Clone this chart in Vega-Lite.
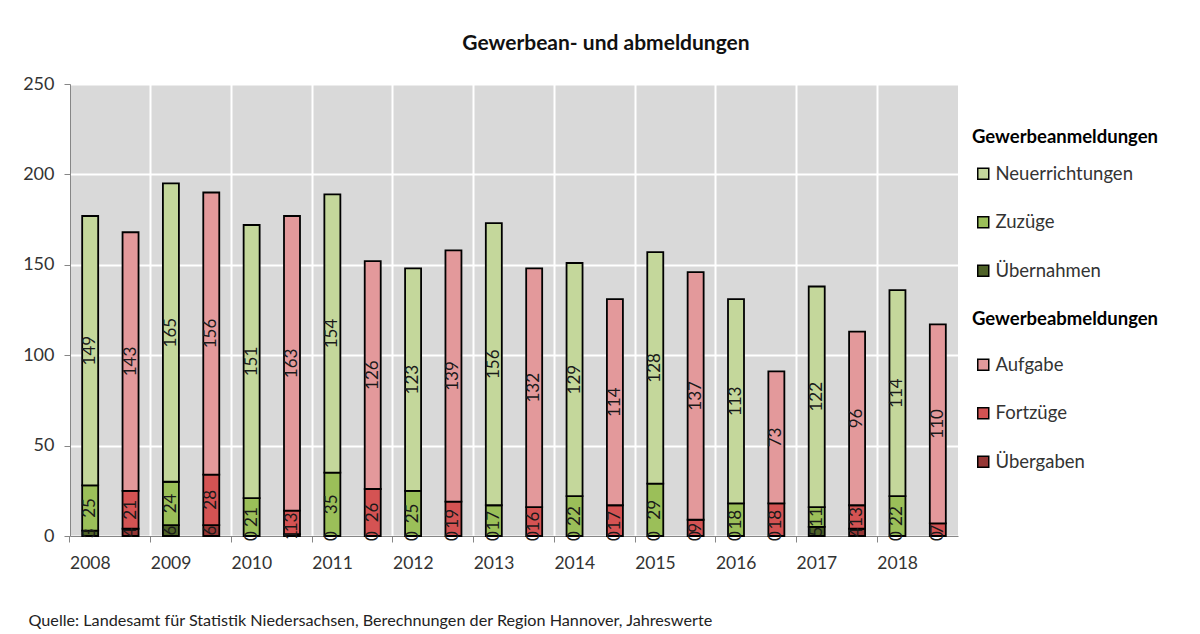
{
  "$schema": "https://vega.github.io/schema/vega-lite/v6.json",
  "width": 888,
  "height": 452,
  "autosize": {"type": "none"},
  "padding": {"left": 70, "top": 84, "right": 242, "bottom": 98},
  "background": "white",
  "title": {"text": "Gewerbean- und abmeldungen", "fontSize": 21, "font": "Lato", "fontWeight": "bold", "color": "#111111", "anchor": "middle", "dx": 92, "offset": 21},
  "data": {"values": [
    {"year": "2008", "g": "An", "k": "Übernahmen", "v": 3},
    {"year": "2008", "g": "An", "k": "Zuzüge", "v": 25},
    {"year": "2008", "g": "An", "k": "Neuerrichtungen", "v": 149},
    {"year": "2008", "g": "Ab", "k": "Übergaben", "v": 4},
    {"year": "2008", "g": "Ab", "k": "Fortzüge", "v": 21},
    {"year": "2008", "g": "Ab", "k": "Aufgabe", "v": 143},
    {"year": "2009", "g": "An", "k": "Übernahmen", "v": 6},
    {"year": "2009", "g": "An", "k": "Zuzüge", "v": 24},
    {"year": "2009", "g": "An", "k": "Neuerrichtungen", "v": 165},
    {"year": "2009", "g": "Ab", "k": "Übergaben", "v": 6},
    {"year": "2009", "g": "Ab", "k": "Fortzüge", "v": 28},
    {"year": "2009", "g": "Ab", "k": "Aufgabe", "v": 156},
    {"year": "2010", "g": "An", "k": "Übernahmen", "v": 0},
    {"year": "2010", "g": "An", "k": "Zuzüge", "v": 21},
    {"year": "2010", "g": "An", "k": "Neuerrichtungen", "v": 151},
    {"year": "2010", "g": "Ab", "k": "Übergaben", "v": 1},
    {"year": "2010", "g": "Ab", "k": "Fortzüge", "v": 13},
    {"year": "2010", "g": "Ab", "k": "Aufgabe", "v": 163},
    {"year": "2011", "g": "An", "k": "Übernahmen", "v": 0},
    {"year": "2011", "g": "An", "k": "Zuzüge", "v": 35},
    {"year": "2011", "g": "An", "k": "Neuerrichtungen", "v": 154},
    {"year": "2011", "g": "Ab", "k": "Übergaben", "v": 0},
    {"year": "2011", "g": "Ab", "k": "Fortzüge", "v": 26},
    {"year": "2011", "g": "Ab", "k": "Aufgabe", "v": 126},
    {"year": "2012", "g": "An", "k": "Übernahmen", "v": 0},
    {"year": "2012", "g": "An", "k": "Zuzüge", "v": 25},
    {"year": "2012", "g": "An", "k": "Neuerrichtungen", "v": 123},
    {"year": "2012", "g": "Ab", "k": "Übergaben", "v": 0},
    {"year": "2012", "g": "Ab", "k": "Fortzüge", "v": 19},
    {"year": "2012", "g": "Ab", "k": "Aufgabe", "v": 139},
    {"year": "2013", "g": "An", "k": "Übernahmen", "v": 0},
    {"year": "2013", "g": "An", "k": "Zuzüge", "v": 17},
    {"year": "2013", "g": "An", "k": "Neuerrichtungen", "v": 156},
    {"year": "2013", "g": "Ab", "k": "Übergaben", "v": 0},
    {"year": "2013", "g": "Ab", "k": "Fortzüge", "v": 16},
    {"year": "2013", "g": "Ab", "k": "Aufgabe", "v": 132},
    {"year": "2014", "g": "An", "k": "Übernahmen", "v": 0},
    {"year": "2014", "g": "An", "k": "Zuzüge", "v": 22},
    {"year": "2014", "g": "An", "k": "Neuerrichtungen", "v": 129},
    {"year": "2014", "g": "Ab", "k": "Übergaben", "v": 0},
    {"year": "2014", "g": "Ab", "k": "Fortzüge", "v": 17},
    {"year": "2014", "g": "Ab", "k": "Aufgabe", "v": 114},
    {"year": "2015", "g": "An", "k": "Übernahmen", "v": 0},
    {"year": "2015", "g": "An", "k": "Zuzüge", "v": 29},
    {"year": "2015", "g": "An", "k": "Neuerrichtungen", "v": 128},
    {"year": "2015", "g": "Ab", "k": "Übergaben", "v": 0},
    {"year": "2015", "g": "Ab", "k": "Fortzüge", "v": 9},
    {"year": "2015", "g": "Ab", "k": "Aufgabe", "v": 137},
    {"year": "2016", "g": "An", "k": "Übernahmen", "v": 0},
    {"year": "2016", "g": "An", "k": "Zuzüge", "v": 18},
    {"year": "2016", "g": "An", "k": "Neuerrichtungen", "v": 113},
    {"year": "2016", "g": "Ab", "k": "Übergaben", "v": 0},
    {"year": "2016", "g": "Ab", "k": "Fortzüge", "v": 18},
    {"year": "2016", "g": "Ab", "k": "Aufgabe", "v": 73},
    {"year": "2017", "g": "An", "k": "Übernahmen", "v": 5},
    {"year": "2017", "g": "An", "k": "Zuzüge", "v": 11},
    {"year": "2017", "g": "An", "k": "Neuerrichtungen", "v": 122},
    {"year": "2017", "g": "Ab", "k": "Übergaben", "v": 4},
    {"year": "2017", "g": "Ab", "k": "Fortzüge", "v": 13},
    {"year": "2017", "g": "Ab", "k": "Aufgabe", "v": 96},
    {"year": "2018", "g": "An", "k": "Übernahmen", "v": 0},
    {"year": "2018", "g": "An", "k": "Zuzüge", "v": 22},
    {"year": "2018", "g": "An", "k": "Neuerrichtungen", "v": 114},
    {"year": "2018", "g": "Ab", "k": "Übergaben", "v": 0},
    {"year": "2018", "g": "Ab", "k": "Fortzüge", "v": 7},
    {"year": "2018", "g": "Ab", "k": "Aufgabe", "v": 110}
  ]},
  "transform": [
    {"stack": "v", "groupby": ["year", "g"], "as": ["v0", "v1"]},
    {"calculate": "(datum.v0 + datum.v1) / 2", "as": "mid"}
  ],
  "encoding": {
    "x": {
      "field": "year", "type": "nominal",
      "scale": {"paddingInner": 0, "paddingOuter": 0},
      "axis": {
        "title": "Quelle: Landesamt für Statistik Niedersachsen, Berechnungen der Region Hannover, Jahreswerte",
        "titleAnchor": "start", "titleAlign": "left", "titleX": -42, "titleY": 84, "titleBaseline": "middle",
        "titleFontSize": 16.2, "titleFontWeight": "normal", "titleColor": "#222222", "titleFont": "Lato",
        "bandPosition": 0, "labelAlign": "center", "labelOffset": -20, "labelAngle": 0, "labelFontSize": 17.5, "labelFont": "Lato",
        "labelPadding": 12, "labelColor": "#333333", "tickSize": 6, "tickColor": "#868686", "domainColor": "#868686",
        "grid": true, "gridColor": "#ffffff", "gridWidth": 2
      }
    },
    "xOffset": {"field": "g", "type": "nominal", "scale": {"domain": ["An", "Ab"], "paddingInner": 0, "paddingOuter": 0}}
  },
  "layer": [
    {
      "transform": [{"filter": "datum.g === 'An'"}],
      "mark": {"type": "bar", "width": 16, "stroke": "#000000", "strokeWidth": 1.8},
      "encoding": {
        "y": {"field": "v0", "type": "quantitative", "scale": {"domain": [0, 250], "nice": false},
          "axis": {"title": null, "values": [0, 50, 100, 150, 200, 250], "labelFontSize": 18, "labelFont": "Lato", "labelColor": "#333333",
            "labelPadding": 10, "tickSize": 6, "tickColor": "#868686", "domainColor": "#868686", "grid": true, "gridColor": "#ffffff", "gridWidth": 2}},
        "y2": {"field": "v1"},
        "color": {"field": "k", "type": "nominal", "sort": null,
          "scale": {"domain": ["Neuerrichtungen", "Zuzüge", "Übernahmen"], "range": ["#c4d79b", "#9bbf59", "#4f6228"]},
          "legend": {"title": "Gewerbeanmeldungen", "orient": "none", "legendX": 902, "legendY": 44, "titlePadding": 18}}
      }
    },
    {
      "transform": [{"filter": "datum.g === 'Ab'"}],
      "mark": {"type": "bar", "width": 16, "stroke": "#000000", "strokeWidth": 1.8},
      "encoding": {
        "y": {"field": "v0", "type": "quantitative"},
        "y2": {"field": "v1"},
        "color": {"field": "k", "type": "nominal", "sort": null,
          "scale": {"domain": ["Aufgabe", "Fortzüge", "Übergaben"], "range": ["#e3999b", "#d45353", "#953735"]},
          "legend": {"title": "Gewerbeabmeldungen", "orient": "none", "legendX": 902, "legendY": 226, "titlePadding": 27}}
      }
    },
    {
      "mark": {"type": "text", "angle": 270, "align": "center", "baseline": "middle", "fontSize": 17, "font": "Lato", "color": "#1a1a1a"},
      "encoding": {
        "y": {"field": "mid", "type": "quantitative"},
        "text": {"field": "v", "type": "quantitative"}
      }
    }
  ],
  "resolve": {"scale": {"color": "independent"}},
  "config": {
    "view": {"fill": "#d9d9d9", "stroke": null},
    "legend": {
      "symbolType": "square", "symbolSize": 121, "symbolStrokeColor": "#000000", "symbolStrokeWidth": 1.5, "symbolOffset": 2,
      "labelFontSize": 18.5, "labelFont": "Lato", "labelColor": "#333333", "labelOffset": 3, "labelLimit": 300,
      "titleFontSize": 18.5, "titleFont": "Lato", "titleFontWeight": "bold", "titleColor": "#000000", "titleLimit": 300,
      "rowPadding": 29.5, "padding": 0
    }
  }
}
